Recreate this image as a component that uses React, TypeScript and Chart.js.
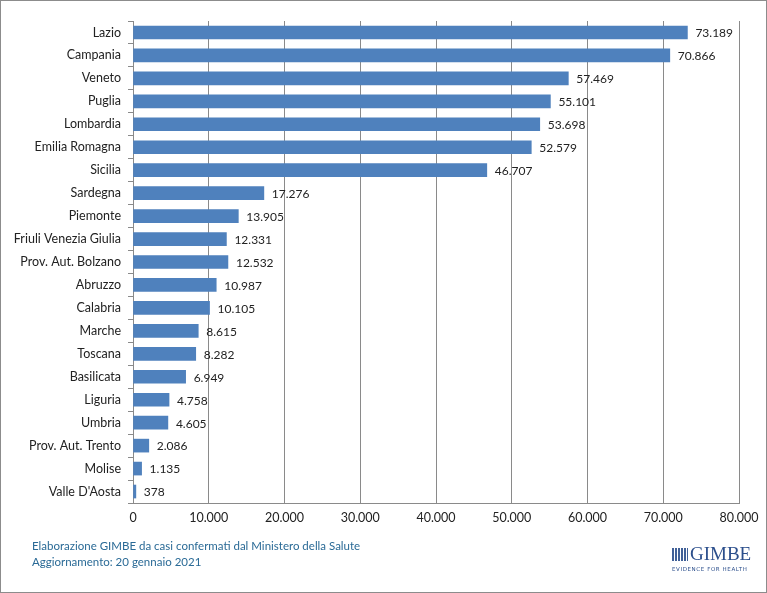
import React, { useEffect, useRef } from "react";
import { Chart, registerables } from "chart.js";

Chart.register(...registerables);

const regions = [
  "Lazio", "Campania", "Veneto", "Puglia", "Lombardia", "Emilia Romagna", "Sicilia",
  "Sardegna", "Piemonte", "Friuli Venezia Giulia", "Prov. Aut. Bolzano", "Abruzzo",
  "Calabria", "Marche", "Toscana", "Basilicata", "Liguria", "Umbria",
  "Prov. Aut. Trento", "Molise", "Valle D'Aosta",
];
const cases = [
  73189, 70866, 57469, 55101, 53698, 52579, 46707,
  17276, 13905, 12331, 12532, 10987,
  10105, 8615, 8282, 6949, 4758, 4605,
  2086, 1135, 378,
];
const xMax = 80000;
const xStep = 10000;
const footerLines = [
  "Elaborazione GIMBE da casi confermati dal Ministero della Salute",
  "Aggiornamento: 20 gennaio 2021",
];

const FONT = "Lato, 'Open Sans', sans-serif";
const fmt = (v: number) => v.toLocaleString("de-DE");

const valueLabels = {
  id: "valueLabels",
  afterDatasetsDraw(chart: any) {
    const ctx = chart.ctx;
    const meta = chart.getDatasetMeta(0);
    const data = chart.data.datasets[0].data as number[];
    ctx.save();
    ctx.font = `12px ${FONT}`;
    ctx.fillStyle = "#222";
    ctx.textAlign = "left";
    ctx.textBaseline = "middle";
    meta.data.forEach((bar: any, i: number) => {
      ctx.fillText(fmt(data[i]), bar.x + 8, bar.y + 1);
    });
    ctx.restore();
  },
};

export default function App() {
  const ref = useRef<HTMLCanvasElement>(null);
  useEffect(() => {
    if (!ref.current) return;
    const chart = new Chart(ref.current, {
      type: "bar",
      data: {
        labels: regions,
        datasets: [
          {
            data: cases,
            backgroundColor: "#4F81BD",
            borderColor: "#3F6FA8",
            borderWidth: 0,
            barThickness: 13,
          },
        ],
      },
      options: {
        indexAxis: "y",
        animation: false,
        responsive: false,
        maintainAspectRatio: false,
        layout: { padding: { top: 20, right: 27, bottom: 0, left: 0 } },
        plugins: { legend: { display: false }, tooltip: { enabled: false } },
        scales: {
          x: {
            min: 0,
            max: xMax,
            afterFit: (s: any) => { s.height = 89; },
            ticks: {
              stepSize: xStep,
              color: "#222",
              font: { family: FONT, size: 12.5 },
              padding: 7,
              callback: (v: any) => fmt(Number(v)),
            },
            grid: { color: "#8a8a8a", lineWidth: 1, drawTicks: true, tickLength: 0 },
            border: { display: true, color: "#8a8a8a" },
          },
          y: {
            afterFit: (s: any) => { s.width = 132; },
            ticks: {
              color: "#222",
              font: { family: FONT, size: 12.5 },
              padding: 7,
            },
            grid: { offset: true, drawOnChartArea: false, tickLength: 5, color: "#8a8a8a" },
            border: { display: true, color: "#8a8a8a" },
          },
        },
      },
      plugins: [valueLabels],
    });
    return () => chart.destroy();
  }, []);

  return (
    <div
      style={{
        position: "fixed",
        left: 0,
        top: 0,
        width: 767,
        height: 593,
        boxSizing: "border-box",
        border: "1px solid #8c8c8c",
        background: "#fff",
        overflow: "hidden",
      }}
    >
      <canvas
        ref={ref}
        width={765}
        height={591}
        style={{ position: "absolute", left: 0, top: 0, width: 765, height: 591 }}
      />
      <div
        style={{
          position: "absolute",
          left: 31,
          top: 537,
          fontFamily: FONT,
          fontSize: 11.5,
          lineHeight: "16px",
          color: "#2A6A96",
        }}
      >
        {footerLines.map((l) => (
          <div key={l}>{l}</div>
        ))}
      </div>
      <div style={{ position: "absolute", left: 671, top: 544, width: 80 }}>
        <div style={{ display: "flex", alignItems: "center" }}>
          <div
            style={{
              width: 16,
              height: 13,
              background:
                "repeating-linear-gradient(90deg,#2C4F8C 0 2px,#fff 2px 3px),#2C4F8C",
              opacity: 0.9,
              marginRight: 2,
            }}
          />
          <div
            style={{
              fontFamily: "'Liberation Serif', serif",
              fontSize: 19,
              lineHeight: "18px",
              color: "#2C4F8C",
            }}
          >
            GIMBE
          </div>
        </div>
        <div
          style={{
            fontFamily: "'DejaVu Sans', sans-serif",
            fontSize: 5.5,
            letterSpacing: 0.6,
            color: "#2C4F8C",
            marginTop: 3,
          }}
        >
          EVIDENCE FOR HEALTH
        </div>
      </div>
    </div>
  );
}
